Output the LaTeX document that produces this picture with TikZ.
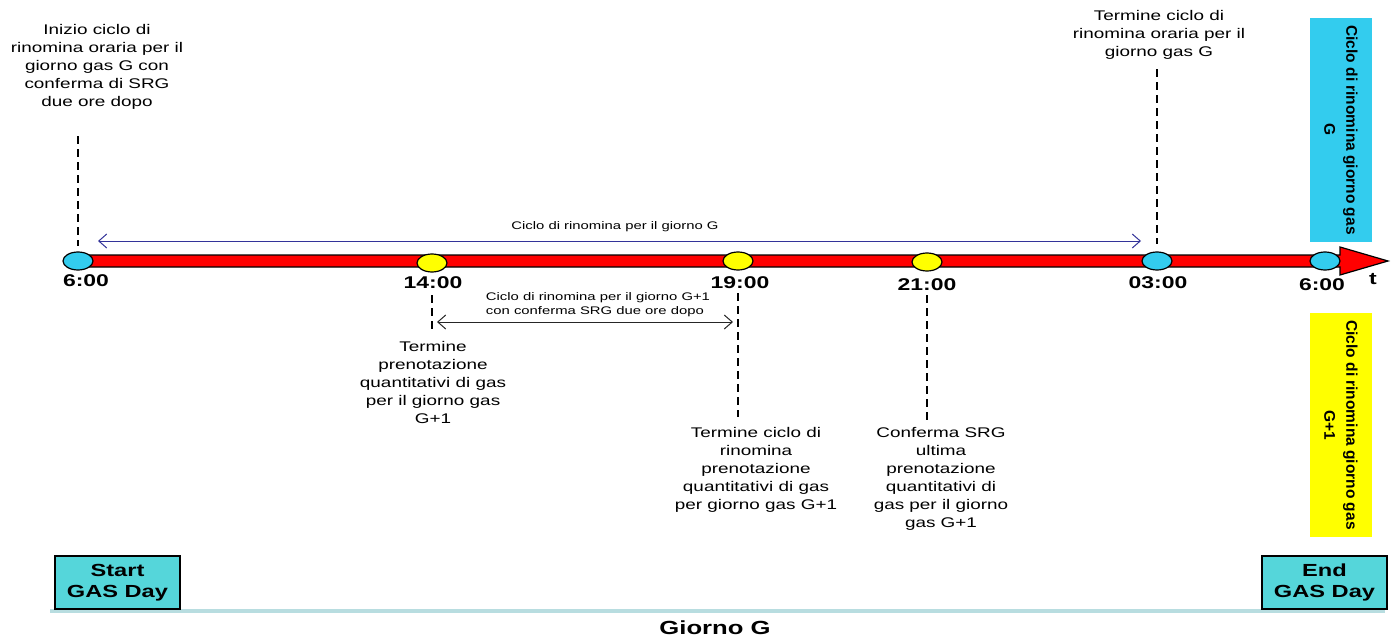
\documentclass[tikz,border=0pt]{standalone}
\usepackage{fontspec}
\setmainfont{Liberation Sans}[FakeStretch=1.35]
\newfontfamily\plainsans{Liberation Sans}
\usetikzlibrary{arrows.meta,shapes.geometric}

\definecolor{barred}{RGB}{255,0,0}
\definecolor{dotblue}{RGB}{51,204,238}
\definecolor{dotyellow}{RGB}{255,255,0}
\definecolor{dayfill}{RGB}{85,214,218}
\definecolor{dayline}{RGB}{184,221,224}
\definecolor{spanblue}{RGB}{51,51,153}

\tikzset{
  hourdot/.style={ellipse, draw=black, line width=1.2pt, minimum width=30pt, minimum height=18pt, inner sep=0pt},
  hourlabel/.style={font=\fontsize{17}{20}\selectfont\bfseries, inner sep=0pt},
  notetext/.style={align=center, font=\fontsize{14}{18}\selectfont, inner sep=0pt},
  guideline/.style={dash pattern=on 8pt off 5pt, line width=1.5pt},
  spanarrow/.style={{Straight Barb[length=8pt,width=14pt]}-{Straight Barb[length=8pt,width=14pt]}, line width=1pt},
  cyclebox/.style={rotate=-90, align=center, font=\plainsans\fontsize{15.5}{22}\selectfont\bfseries, minimum width=224pt, minimum height=62pt, inner sep=0pt},
  gasday/.style={draw=black, line width=1.8pt, fill=dayfill, align=center, font=\fontsize{17.5}{21}\selectfont\bfseries, minimum width=125pt, minimum height=53pt, inner sep=0pt}
}

\begin{document}
\begin{tikzpicture}[x=1pt,y=-1pt]
	\useasboundingbox (0,0) rectangle (1398,642);

	%Timeline
	\draw[line width=1.2pt, fill=barred] (78,255) -- (1340,255) -- (1340,247) -- (1388,261) -- (1340,275) -- (1340,267) -- (78,267) -- cycle;
	\node[font=\fontsize{17}{20}\selectfont\bfseries] (t) at (1373,279) {t};

	%Hours
	\node[hourdot, fill=dotblue] (t6) at (78,261) {};
	\node[hourdot, fill=dotyellow] (t14) at (432,263) {};
	\node[hourdot, fill=dotyellow] (t19) at (738,261) {};
	\node[hourdot, fill=dotyellow] (t21) at (927,262) {};
	\node[hourdot, fill=dotblue] (t3) at (1157,261) {};
	\node[hourdot, fill=dotblue] (t6b) at (1325,261) {};

	\node[hourlabel] (h6) at (86,281) {6:00};
	\node[hourlabel] (h14) at (433,283) {14:00};
	\node[hourlabel] (h19) at (740,283) {19:00};
	\node[hourlabel] (h21) at (927,285) {21:00};
	\node[hourlabel] (h3) at (1158,283) {03:00};
	\node[hourlabel] (h6b) at (1322,285) {6:00};

	%Notes
	\node[notetext, anchor=north] (n6) at (97,24) {Inizio ciclo di\\rinomina oraria per il\\giorno gas G con\\conferma di SRG\\due ore dopo};
	\node[notetext, anchor=north] (n3) at (1159,10) {Termine ciclo di\\rinomina oraria per il\\giorno gas G};
	\node[notetext, anchor=north] (n14) at (433,341) {Termine\\prenotazione\\quantitativi di gas\\per il giorno gas\\G+1};
	\node[notetext, anchor=north] (n19) at (756,427) {Termine ciclo di\\rinomina\\prenotazione\\quantitativi di gas\\per giorno gas G+1};
	\node[notetext, anchor=north] (n21) at (941,427) {Conferma SRG\\ultima\\prenotazione\\quantitativi di\\gas per il giorno\\gas G+1};

	%Guides
	\draw[guideline, shorten <=27pt, shorten >=5pt] (t6 |- n6.south) -- (t6);
	\draw[guideline, shorten <=10pt, shorten >=7pt] (t3 |- n3.south) -- (t3);
	\draw[guideline, shorten <=6pt, shorten >=8pt] (t14 |- h14.south) -- (t14 |- n14.north);
	\draw[guideline, shorten <=4pt, shorten >=10pt] (t19 |- h19.south) -- (t19 |- n19.north);
	\draw[guideline, shorten <=4pt, shorten >=2pt] (t21 |- h21.south) -- (t21 |- n21.north);

	%Spans
	\coordinate (gl) at (98,241);
	\coordinate (gr) at (1141,241);
	\draw[spanarrow, spanblue] (gl) -- (gr);
	\node[font=\fontsize{11}{14}\selectfont] (lg) at (615,227) {Ciclo di rinomina per il giorno G};

	\coordinate (nl) at (437,322);
	\coordinate (nr) at (733,322);
	\draw[spanarrow, black!85] (nl) -- (nr);
	\node[align=left, font=\fontsize{11}{14}\selectfont, inner sep=0pt] (ln) at (598,305) {Ciclo di rinomina per il giorno G+1\\con conferma SRG due ore dopo};

	%Cycles
	\node[cyclebox, fill=dotblue] (cg) at (1341,130) {Ciclo di rinomina giorno gas\\G};
	\node[cyclebox, fill=dotyellow] (cg1) at (1341,425) {Ciclo di rinomina giorno gas\\G+1};

	%Gas day
	\draw[dayline, line width=4pt] (50,611) -- (1385,611);
	\node[gasday] (start) at (117.5,582.5) {Start\\GAS Day};
	\node[gasday] (end) at (1324.5,582.5) {End\\GAS Day};
	\node[font=\fontsize{19}{22}\selectfont\bfseries] (day) at (715,628) {Giorno G};

\end{tikzpicture}
\end{document}
